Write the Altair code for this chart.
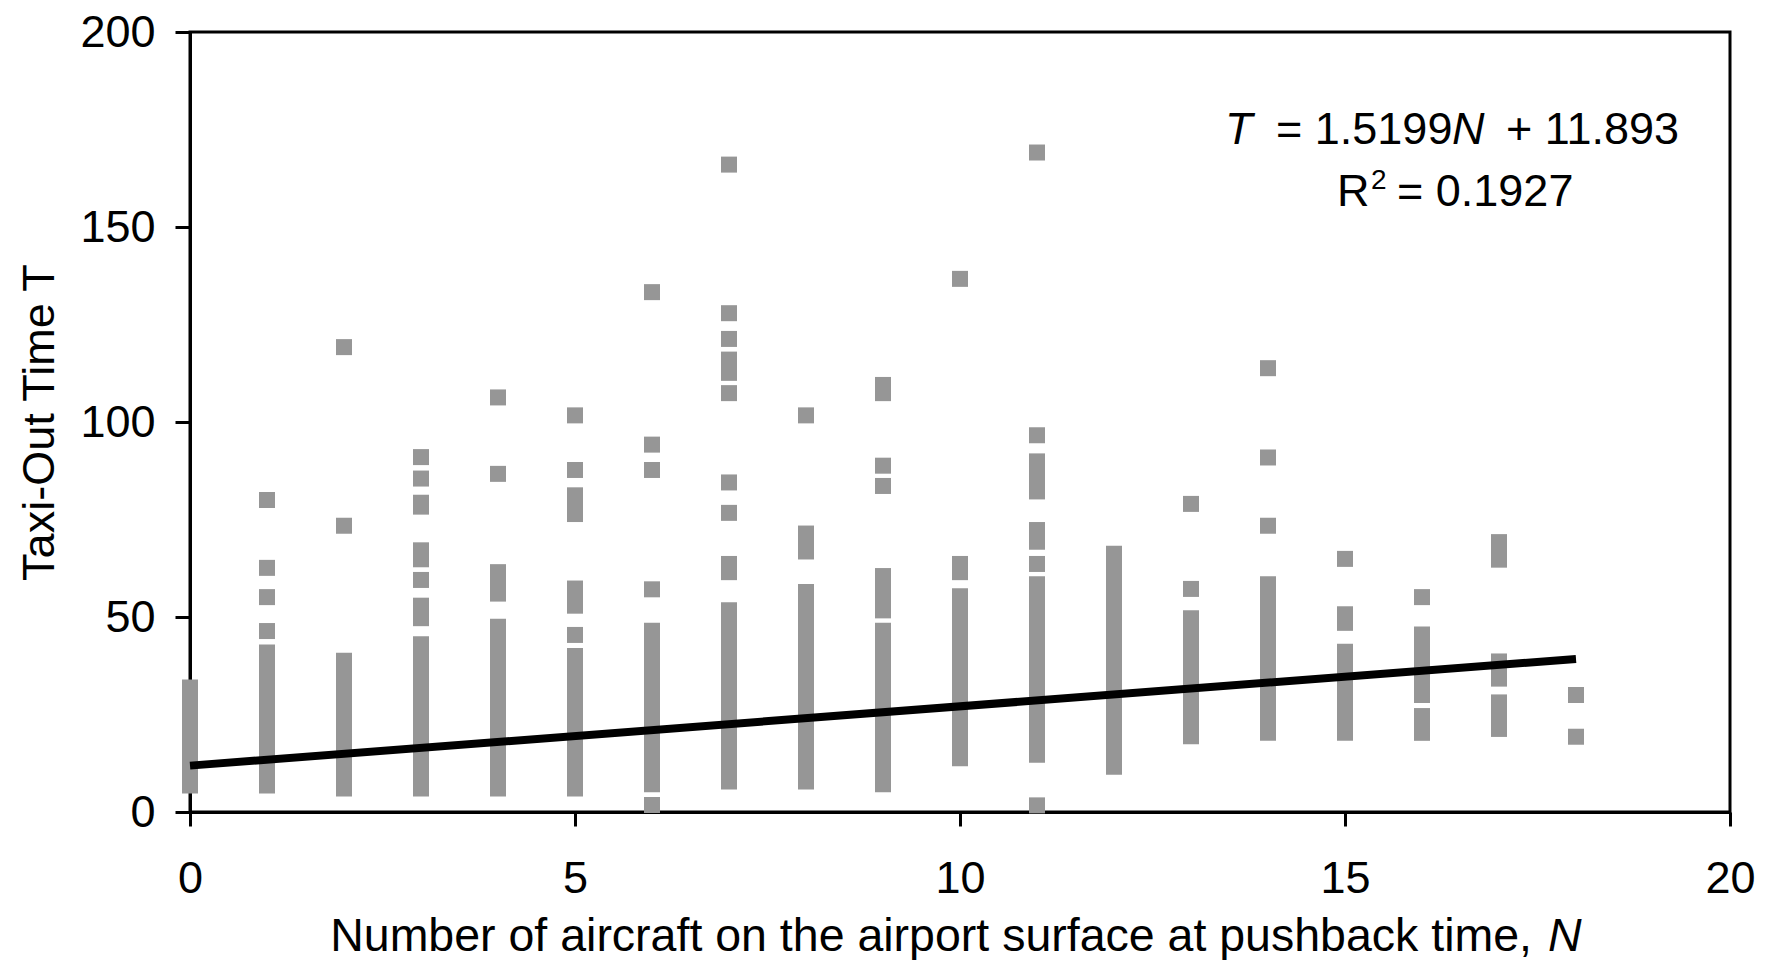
import altair as alt
import pandas as pd

# ---- Data ----
# Isolated observations (number of aircraft N, taxi-out time T)
point_n = [1, 1, 1, 1,
           2, 2,
           3, 3, 3,
           4, 4,
           5, 5, 5,
           6, 6, 6, 6, 6,
           7, 7, 7, 7, 7, 7,
           8,
           9, 9,
           10,
           11, 11, 11, 11,
           13, 13,
           14, 14, 14,
           15,
           16,
           18, 18]
point_t = [80.0, 62.6, 55.1, 46.4,
           119.2, 73.4,
           91.0, 85.5, 59.5,
           106.3, 86.7,
           101.7, 87.7, 45.4,
           133.3, 94.2, 87.7, 57.1, 1.8,
           166.0, 127.9, 121.3, 107.4, 84.5, 76.7,
           101.7,
           88.8, 83.6,
           136.7,
           169.1, 96.6, 63.6, 1.7,
           79.0, 57.2,
           113.8, 90.9, 73.4,
           64.9,
           55.1,
           30.0, 19.3]

# Dense runs of overlapping observations (N, lowest T, highest T)
run_n = [0, 1, 2, 3, 3, 3, 3, 4, 4, 5, 5, 5, 6, 7, 7, 7, 8, 8, 9, 9, 9,
         10, 10, 11, 11, 11, 12, 13, 14, 15, 15, 16, 16, 17, 17, 17]
run_lo = [6.8, 6.8, 6.0, 78.3, 64.8, 49.7, 6.0, 56.0, 6.0, 76.4, 52.9, 6.0,
          7.1, 112.6, 61.5, 7.8, 66.8, 7.8, 107.4, 51.7, 7.1,
          61.5, 13.8, 82.2, 69.3, 14.7, 11.6, 19.4, 20.3, 48.5, 20.3,
          30.0, 20.3, 64.7, 34.2, 21.3]
run_hi = [31.9, 40.9, 38.8, 79.3, 67.1, 52.9, 43.0, 61.5, 47.5, 81.2, 57.3, 40.0,
          46.5, 116.0, 63.6, 51.7, 71.4, 56.4, 109.5, 60.5, 46.5,
          63.6, 55.3, 89.9, 72.3, 58.4, 66.2, 49.7, 58.4, 50.7, 41.1,
          45.5, 24.6, 69.2, 38.6, 28.1]

# Fitted line T = 1.5199 N + 11.893 over the observed range
fit_n = [0, 18]
fit_t = [11.893, 39.251]

x_ticks = [0, 5, 10, 15, 20]
y_ticks = [0, 50, 100, 150, 200]

points = pd.DataFrame({"N": point_n, "T": point_t})
runs = pd.DataFrame({"N": run_n, "lo": run_lo, "hi": run_hi})
fit = pd.DataFrame({"N": fit_n, "T": fit_t})

FONT = "Liberation Sans"
GRAY = "#969696"
FS = 45

xs = alt.Scale(domain=[0, 20], nice=False, zero=False)
ys = alt.Scale(domain=[0, 200], nice=False)

x_axis = alt.Axis(values=x_ticks, format="d", title=None, grid=False, tickSize=14,
                  tickWidth=3, tickColor="black", domainColor="black", domainWidth=3,
                  labelFontSize=FS, labelFont=FONT, labelColor="black",
                  labelPadding=30, labelFlush=False)
y_axis = alt.Axis(values=y_ticks, format="d", title="Taxi-Out Time T", grid=False,
                  tickSize=15, tickWidth=3, tickColor="black", domainColor="black",
                  domainWidth=3, labelFontSize=FS, labelFont=FONT, labelColor="black",
                  labelPadding=20, labelFlush=False,
                  titleFontSize=FS, titleFont=FONT, titleFontWeight="normal",
                  titleColor="black", titleX=-137, titleY=390, titleAngle=270,
                  titleBaseline="alphabetic", titleAlign="center")

run_layer = alt.Chart(runs).mark_rule(
    strokeWidth=16, strokeCap="square", color=GRAY
).encode(
    x=alt.X("N:Q", scale=xs, axis=x_axis),
    y=alt.Y("lo:Q", scale=ys, axis=y_axis),
    y2="hi:Q",
)

point_layer = alt.Chart(points).mark_square(
    size=256, color=GRAY, opacity=1, filled=True
).encode(
    x=alt.X("N:Q", scale=xs),
    y=alt.Y("T:Q", scale=ys),
)

fit_layer = alt.Chart(fit).mark_line(color="black", strokeWidth=8).encode(
    x=alt.X("N:Q", scale=xs),
    y=alt.Y("T:Q", scale=ys),
)


def label(text, x, y, align="left", italic=False, size=FS):
    return alt.Chart(pd.DataFrame({"a": [0]})).mark_text(
        text=text, align=align, baseline="alphabetic", font=FONT, fontSize=size,
        fontStyle="italic" if italic else "normal", color="black",
    ).encode(x=alt.value(x), y=alt.value(y))


texts = [
    label("T", 1035, 112, italic=True),
    label("= 1.5199", 1086, 112),
    label("N", 1262, 112, italic=True),
    label("+ 11.893", 1316, 112),
    label("R", 1147, 174),
    label("2", 1181, 157, size=28),
    label("= 0.1927", 1207, 174),
    label("Number of aircraft on the airport surface at pushback time,", 1342, 919,
          align="right", size=46.5),
    label("N", 1358, 919, italic=True, size=46.5),
]

chart = alt.layer(run_layer, point_layer, fit_layer, *texts).properties(
    width=1540, height=780,
    autosize=alt.AutoSizeParams(type="none"),
    padding={"left": 190, "top": 32, "right": 42, "bottom": 148},
    background="white",
).configure_view(stroke="black", strokeWidth=3)

chart.save("out.html", embed_options={"renderer": "svg", "actions": False})
